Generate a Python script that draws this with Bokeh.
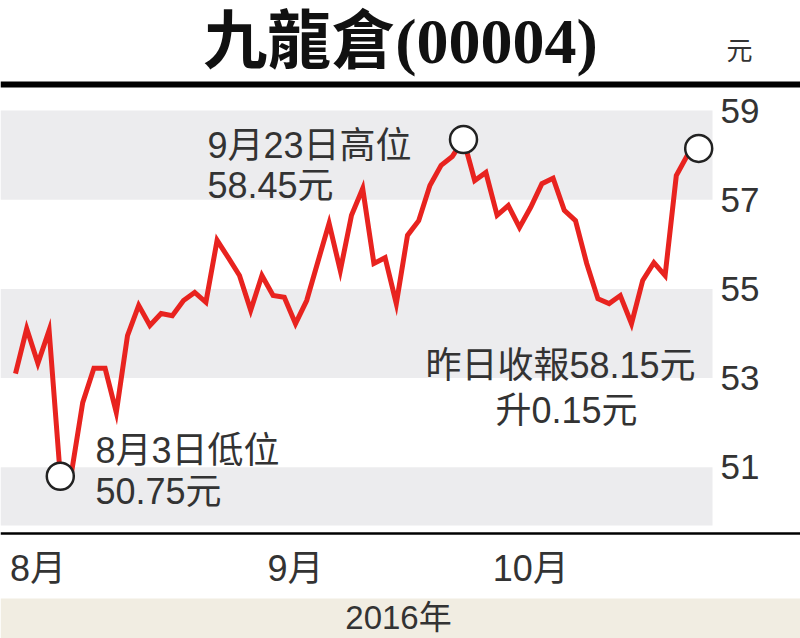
from bokeh.plotting import figure
from bokeh.models import Range1d, FixedTicker, Label, LinearAxis
from bokeh.core.properties import value
from bokeh.embed import file_html
from bokeh.resources import INLINE

# ---------------- data ----------------
dates = ["07-28", "07-29",
         "08-01", "08-02", "08-03", "08-04", "08-05", "08-08", "08-09", "08-10", "08-11", "08-12",
         "08-15", "08-16", "08-17", "08-18", "08-19", "08-22", "08-23", "08-24", "08-25", "08-26",
         "08-29", "08-30", "08-31",
         "09-01", "09-02", "09-05", "09-06", "09-07", "09-08", "09-09", "09-12", "09-13", "09-14",
         "09-15", "09-19", "09-20", "09-21", "09-22", "09-23", "09-26", "09-27", "09-28", "09-29",
         "09-30",
         "10-03", "10-04", "10-05", "10-06", "10-07", "10-11", "10-12", "10-13", "10-14", "10-17",
         "10-18", "10-19", "10-20", "10-21", "10-24", "10-25"]

close = [53.10, 54.11, 53.33, 54.07, 50.80, 50.88, 52.45, 53.22, 53.22, 52.23,
         53.95, 54.63, 54.18, 54.45, 54.40, 54.74, 54.92, 54.70, 56.09, 55.70,
         55.30, 54.52, 55.30, 54.85, 54.81, 54.22, 54.74, 55.61, 56.47, 55.41,
         56.65, 57.25, 55.57, 55.70, 54.67, 56.20, 56.53, 57.32, 57.77, 57.97,
         58.35, 57.43, 57.61, 56.65, 56.87, 56.38, 56.83, 57.36, 57.48, 56.76,
         56.53, 55.57, 54.78, 54.67, 54.85, 54.22, 55.19, 55.59, 55.30, 57.54,
         58.00, 58.15]

y_ticks = [51, 53, 55, 57, 59]
month_names = {"08": "8月", "09": "9月", "10": "10月"}

title_text = "九龍倉(00004)"
unit_text = "元"
year_text = "2016年"
high_text = ["9月23日高位", "58.45元"]
low_text = ["8月3日低位", "50.75元"]
last_text = ["昨日收報58.15元", "升0.15元"]

# ---------------- derived ----------------
x = list(range(len(close)))
low_i = close.index(min(close))
high_i = close.index(max(close))
last_i = len(close) - 1

month_ticks = []
month_overrides = {}
prev = None
for i, d in enumerate(dates):
    m = d[:2]
    if m != prev and m in month_names:
        month_ticks.append(i)
        month_overrides[i] = month_names[m]
    prev = m

# ---------------- layout / style ----------------
FONT = "Liberation Sans, Noto Sans CJK TC"
TFONT = "Liberation Serif, Noto Sans CJK TC"
TXT = "#333333"
BAND = "#ececee"
RED = "#e8231f"
BEIGE = "#f1ede2"

W, H = 800, 638
PX_DAY = 11.2          # pixels per trading day
PX_UNIT = 44.6         # pixels per HK$
DAY0_PX = 15           # pixel position of first trading day
TOP_PX = 110           # pixel position of 59
PLOT_RIGHT_PX = 712    # right end of the banded plot area
AXIS_PX = 533          # pixel position of the bottom rule / month axis
BAND_FLOOR_PX = 525

def day_at(px):
    return (px - DAY0_PX) / PX_DAY

def price_at(py):
    return y_ticks[-1] - (py - TOP_PX) / PX_UNIT

X0, X1 = day_at(0), day_at(W)
Y_TOP, Y_BOT = price_at(0), price_at(H)
BAND_RIGHT = day_at(PLOT_RIGHT_PX)

p = figure(width=W, height=H, output_backend="svg", toolbar_location=None, title=None,
           x_range=Range1d(X0, X1), y_range=Range1d(Y_BOT, Y_TOP),
           x_axis_location=None, y_axis_location=None, min_border=0)
p.min_border_left = p.min_border_right = p.min_border_top = p.min_border_bottom = 0
p.extra_x_ranges = {"px": Range1d(0, W)}
p.extra_y_ranges = {"px": Range1d(H, 0)}
p.background_fill_color = "white"
p.border_fill_color = "white"
p.outline_line_color = None
p.xgrid.visible = False
p.ygrid.visible = False

# alternating bands between ticks
band_bottoms = [price_at(BAND_FLOOR_PX)] + y_ticks[1::2]
band_tops = y_ticks[0::2]
p.quad(left=X0, right=BAND_RIGHT, bottom=band_bottoms, top=band_tops,
       fill_color=BAND, line_color=None)

# header rule and footer band (pixel coordinates)
p.quad(left=[0], right=[W], top=[81], bottom=[87], fill_color="black", line_color=None,
       x_range_name="px", y_range_name="px")
p.quad(left=[0], right=[W], top=[598], bottom=[H], fill_color=BEIGE, line_color=None,
       x_range_name="px", y_range_name="px")

# price line and marker circles
p.line(x, close, line_color=RED, line_width=5, line_join="miter")
p.scatter([low_i, high_i, last_i], [close[low_i], close[high_i], close[last_i]],
          size=27, fill_color="white", line_color="#222222", line_width=2.5)

# y axis (right of the banded area)
yax = LinearAxis(ticker=FixedTicker(ticks=y_ticks), fixed_location=BAND_RIGHT)
yax.axis_line_color = None
yax.major_tick_line_color = None
yax.minor_tick_line_color = None
yax.major_tick_out = 0
yax.major_tick_in = 0
yax.major_label_standoff = 8
yax.major_label_text_font = FONT
yax.major_label_text_font_size = "35px"
yax.major_label_text_color = TXT
p.add_layout(yax, "right")

# month axis with the bottom rule as its axis line
xax = LinearAxis(ticker=FixedTicker(ticks=month_ticks), major_label_overrides=month_overrides,
                 fixed_location=price_at(AXIS_PX))
xax.axis_line_color = "black"
xax.axis_line_width = 2.5
xax.major_tick_line_color = None
xax.minor_tick_line_color = None
xax.major_tick_out = 0
xax.major_tick_in = 0
xax.major_label_standoff = 14
xax.major_label_text_font = FONT
xax.major_label_text_font_size = "36px"
xax.major_label_text_color = TXT
p.add_layout(xax, "below")

# header / footer texts
p.text(x=[400], y=[41], text=[title_text], text_font=value(TFONT), text_font_size="64px",
       text_font_style="bold", text_color="#111111", text_align="center",
       text_baseline="middle", x_range_name="px", y_range_name="px")
p.text(x=[739], y=[50], text=[unit_text], text_font=value(FONT), text_font_size="26px",
       text_color=TXT, text_align="center", text_baseline="middle",
       x_range_name="px", y_range_name="px")
p.text(x=[398], y=[617], text=[year_text], text_font=value(FONT), text_font_size="33px",
       text_color=TXT, text_align="center", text_baseline="middle",
       x_range_name="px", y_range_name="px")


def ann(xv, yv, t, align="left"):
    p.add_layout(Label(x=xv, y=yv, text=t, text_font=FONT, text_font_size="36px",
                       text_color=TXT, text_align=align, text_baseline="middle"))


ann(17.14, 58.215, high_text[0])
ann(17.14, 57.32, high_text[1])
ann(7.14, 51.377, low_text[0])
ann(7.14, 50.457, low_text[1])
ann(48.66, 53.283, last_text[0], "center")
ann(49.2, 52.274, last_text[1], "center")

open("out.html", "w").write(file_html(p, INLINE))
